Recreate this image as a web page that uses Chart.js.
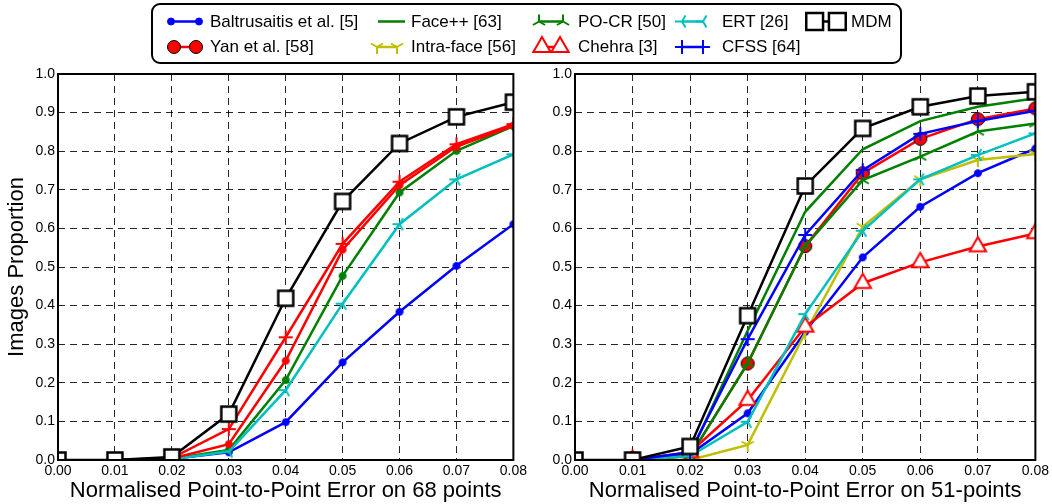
<!DOCTYPE html>
<html>
<head>
<meta charset="utf-8">
<script src="https://cdn.jsdelivr.net/npm/chart.js@4.4.1/dist/chart.umd.min.js"></script>
<style>
  html, body { margin: 0; padding: 0; background: #fff; }
  body { width: 1052px; height: 504px; position: relative; overflow: hidden;
         font-family: "Liberation Sans", Arial, sans-serif; }
  .panel { position: absolute; top: 0; height: 504px; }
  #left { left: 0; width: 530px; }
  #right { left: 530px; width: 522px; }
  #legendBox { position: absolute; left: 151px; top: 3px; width: 751px; height: 61px;
               border: 2px solid #000; border-radius: 9px; box-sizing: border-box; background: #fff; }
  #legendIcons { position: absolute; left: 0; top: 0; }
  .lbl { position: absolute; font-size: 17px; line-height: 20px; white-space: nowrap; color: #000; }
</style>
</head>
<body>
<div class="panel" id="left"><canvas id="c68"></canvas></div>
<div class="panel" id="right"><canvas id="c51"></canvas></div>
<div id="legendBox"></div>
<canvas id="legendIcons" width="1052" height="70"></canvas>
<div id="legendText"></div>

<script>
// x positions (normalised error) shared by both panels
const errLabels = ['0.00', '0.01', '0.02', '0.03', '0.04', '0.05', '0.06', '0.07', '0.08'];

// left panel: 68 points
const p68Blue    = [null, 0, 0.003, 0.020, 0.098, 0.253, 0.384, 0.503, 0.611];
const p68Green   = [null, 0, 0.003, 0.026, 0.207, 0.477, 0.693, 0.801, 0.865];
const p68Cyan    = [null, 0, 0.002, 0.022, 0.181, 0.405, 0.611, 0.727, 0.792];
const p68RedDot  = [null, 0, 0.004, 0.041, 0.257, 0.545, 0.712, 0.812, 0.866];
const p68RedPlus = [null, 0, 0.005, 0.080, 0.318, 0.560, 0.721, 0.818, 0.870];
const p68MDM     = [0, 0, 0.008, 0.119, 0.419, 0.670, 0.820, 0.889, 0.927];

// right panel: 51 points
const methods = ['Baltrusaitis et al. [5]', 'Yan et al. [58]', 'Face++ [63]', 'Intra-face [56]',
                 'PO-CR [50]', 'Chehra [3]', 'ERT [26]', 'CFSS [64]', 'MDM'];
const p51Baltrusaitis = [null, 0, 0.015, 0.121, 0.332, 0.525, 0.656, 0.743, 0.807];
const p51Yan          = [null, 0, 0.010, 0.250, 0.554, 0.743, 0.832, 0.883, 0.911];
const p51FacePP       = [null, 0, 0.015, 0.335, 0.643, 0.805, 0.878, 0.915, 0.937];
const p51IntraFace    = [null, 0, 0.000, 0.039, 0.329, 0.604, 0.727, 0.777, 0.793];
const p51POCR         = [null, 0, 0.010, 0.250, 0.554, 0.725, 0.786, 0.851, 0.872];
const p51Chehra       = [null, 0, 0.020, 0.155, 0.345, 0.458, 0.512, 0.553, 0.587];
const p51ERT          = [null, 0, 0.010, 0.099, 0.378, 0.594, 0.727, 0.790, 0.846];
const p51CFSS         = [null, 0, 0.020, 0.313, 0.583, 0.751, 0.845, 0.878, 0.905];
const p51MDM          = [0, 0, 0.035, 0.374, 0.710, 0.859, 0.915, 0.943, 0.954];

const BLUE = '#0000ff', RED = '#ff0000', GREEN = '#008000', CYAN = '#00bfbf',
      YELLOW = '#bfbf00', BLACK = '#000000';
const FONT = '"Liberation Sans", Arial, sans-serif';

// marker styles
const mk = {
  dot:    c => ({ shape: 'circle', size: 3.5, fill: c, edge: c, lw: 1 }),
  yan:    { shape: 'circle', size: 6.5, fill: RED, edge: BLACK, lw: 1 },
  plus:   c => ({ shape: 'plus', size: 7, edge: c, lw: 2 }),
  triU:   c => ({ shape: 'tri_up', size: 7, edge: c, lw: 2 }),
  triD:   c => ({ shape: 'tri_down', size: 7, edge: c, lw: 2 }),
  triL:   c => ({ shape: 'tri_left', size: 7, edge: c, lw: 2 }),
  chehra: { shape: 'triangle', size: 9.5, fill: '#fff', edge: RED, lw: 2 },
  mdm:    { shape: 'square', size: 7.5, fill: '#fff', edge: BLACK, lw: 2.5 }
};

function drawMarker(ctx, m, x, y, scale) {
  if (!m) return;
  const s = m.size * (scale || 1);
  ctx.save();
  ctx.lineWidth = m.lw;
  ctx.strokeStyle = m.edge;
  ctx.fillStyle = m.fill || m.edge;
  ctx.lineJoin = 'miter';
  ctx.beginPath();
  const arms = angles => {
    angles.forEach(a => {
      const r = a * Math.PI / 180;
      ctx.moveTo(x, y);
      ctx.lineTo(x + s * Math.cos(r), y + s * Math.sin(r));
    });
    ctx.stroke();
  };
  switch (m.shape) {
    case 'circle':
      ctx.arc(x, y, s, 0, Math.PI * 2); ctx.fill(); ctx.stroke(); break;
    case 'square':
      ctx.rect(x - s, y - s, 2 * s, 2 * s); ctx.fill(); ctx.stroke(); break;
    case 'triangle':
      ctx.moveTo(x, y - s);
      ctx.lineTo(x + s * 0.866, y + s * 0.5);
      ctx.lineTo(x - s * 0.866, y + s * 0.5);
      ctx.closePath(); ctx.fill(); ctx.stroke(); break;
    case 'plus': arms([0, 90, 180, 270]); break;
    case 'tri_up': arms([270, 30, 150]); break;
    case 'tri_down': arms([90, 210, 330]); break;
    case 'tri_left': arms([180, 300, 60]); break;
  }
  ctx.restore();
}

function markerCanvas(m) {
  const pad = Math.ceil(m.size + m.lw + 2);
  const c = document.createElement('canvas');
  c.width = c.height = pad * 2;
  drawMarker(c.getContext('2d'), m, pad, pad);
  return c;
}

function makeDatasets(series) {
  const n = series.length;
  return series.map((s, i) => ({
    label: s.label || '',
    data: s.data,
    borderColor: s.color,
    backgroundColor: s.color,
    borderWidth: 2.5,
    tension: 0,
    fill: false,
    clip: 0,
    order: n - i,
    pointStyle: s.marker ? markerCanvas(s.marker) : false,
    pointRadius: s.marker ? s.marker.size : 0,
    pointHoverRadius: s.marker ? s.marker.size : 0
  }));
}

const framePlugin = {
  id: 'frame',
  afterDatasetsDraw(chart) {
    const { ctx, chartArea: a } = chart;
    ctx.save();
    ctx.strokeStyle = '#000';
    ctx.lineWidth = 2;
    ctx.strokeRect(a.left, a.top, a.right - a.left, a.bottom - a.top);
    ctx.restore();
  }
};

function panelOptions(cfg) {
  const grid = { color: 'rgba(0,0,0,0.85)', lineWidth: 1, drawTicks: false };
  const border = { display: false, dash: [7, 5] };
  return {
    responsive: true,
    maintainAspectRatio: false,
    animation: false,
    events: [],
    layout: { autoPadding: false, padding: { top: 74, right: cfg.padRight, left: 0, bottom: 0 } },
    plugins: { legend: { display: false }, tooltip: { enabled: false } },
    scales: {
      x: {
        type: 'category',
        offset: false,
        grid, border,
        ticks: { color: '#000', font: { family: FONT, size: 14 }, padding: 3,
                 maxRotation: 0, autoSkip: false },
        title: { display: true, text: cfg.xTitle, color: '#000',
                 font: { family: FONT, size: 22 }, padding: { top: 0, bottom: 0 } },
        afterFit: s => { s.height = 44; }
      },
      y: {
        min: 0, max: 1,
        grid, border,
        ticks: { stepSize: 0.1, color: '#000', font: { family: FONT, size: 14 }, padding: 3,
                 callback: v => Number(v).toFixed(1) },
        title: { display: !!cfg.yTitle, text: cfg.yTitle || '', color: '#000',
                 font: { family: FONT, size: 22 }, padding: { top: 4, bottom: 0 } },
        afterFit: s => { s.width = cfg.yWidth; }
      }
    }
  };
}

const leftSeries = [
  { data: p68Blue, color: BLUE, marker: mk.dot(BLUE) },
  { data: p68Green, color: GREEN, marker: mk.dot(GREEN) },
  { data: p68Cyan, color: CYAN, marker: mk.triL(CYAN) },
  { data: p68RedDot, color: RED, marker: mk.dot(RED) },
  { data: p68RedPlus, color: RED, marker: mk.plus(RED) },
  { data: p68MDM, color: BLACK, marker: mk.mdm }
];

const rightSeries = [
  { label: methods[0], data: p51Baltrusaitis, color: BLUE, marker: mk.dot(BLUE) },
  { label: methods[1], data: p51Yan, color: RED, marker: mk.yan },
  { label: methods[2], data: p51FacePP, color: GREEN, marker: null },
  { label: methods[3], data: p51IntraFace, color: YELLOW, marker: mk.triD(YELLOW) },
  { label: methods[4], data: p51POCR, color: GREEN, marker: mk.triU(GREEN) },
  { label: methods[5], data: p51Chehra, color: RED, marker: mk.chehra },
  { label: methods[6], data: p51ERT, color: CYAN, marker: mk.triL(CYAN) },
  { label: methods[7], data: p51CFSS, color: BLUE, marker: mk.plus(BLUE) },
  { label: methods[8], data: p51MDM, color: BLACK, marker: mk.mdm }
];

new Chart(document.getElementById('c68'), {
  type: 'line',
  data: { labels: errLabels, datasets: makeDatasets(leftSeries) },
  options: panelOptions({ padRight: 8, yWidth: 58, yTitle: 'Images Proportion',
                          xTitle: 'Normalised Point-to-Point Error on 68 points' }),
  plugins: [framePlugin]
});

new Chart(document.getElementById('c51'), {
  type: 'line',
  data: { labels: errLabels, datasets: makeDatasets(rightSeries) },
  options: panelOptions({ padRight: 14, yWidth: 45,
                          xTitle: 'Normalised Point-to-Point Error on 51-points' }),
  plugins: [framePlugin]
});

// legend (two rows, five columns), icons drawn with the same marker styles
const legendCols = [[167, 203, 210], [369, 405, 411], [531, 571, 578], [674, 711, 722], [805, 847, 851]];
const legendRows = [21.5, 47];
const legendSlots = [[0, 0], [0, 1], [1, 0], [1, 1], [2, 0], [2, 1], [3, 0], [3, 1], [4, 0]];
const legendScale = { 'Chehra [3]': 1.05, 'MDM': 1.12 };

const lctx = document.getElementById('legendIcons').getContext('2d');
const ltext = document.getElementById('legendText');
rightSeries.forEach((s, i) => {
  const [ci, ri] = legendSlots[i];
  const [a, b, tx] = legendCols[ci];
  const y = legendRows[ri];
  const sc = legendScale[s.label] || 1;
  const m = s.marker;
  const half = m ? m.size * sc + m.lw / 2 : 0;
  const x0 = m ? a + half : a + 9, x1 = m ? b - half : b;
  lctx.save();
  lctx.strokeStyle = s.color;
  lctx.lineWidth = 2.5;
  lctx.beginPath();
  lctx.moveTo(x0, y);
  lctx.lineTo(x1, y);
  lctx.stroke();
  lctx.restore();
  drawMarker(lctx, m, x0, y, sc);
  drawMarker(lctx, m, x1, y, sc);
  const span = document.createElement('span');
  span.className = 'lbl';
  span.textContent = s.label;
  span.style.left = tx + 'px';
  span.style.top = (y - 10) + 'px';
  ltext.appendChild(span);
});
</script>
</body>
</html>
